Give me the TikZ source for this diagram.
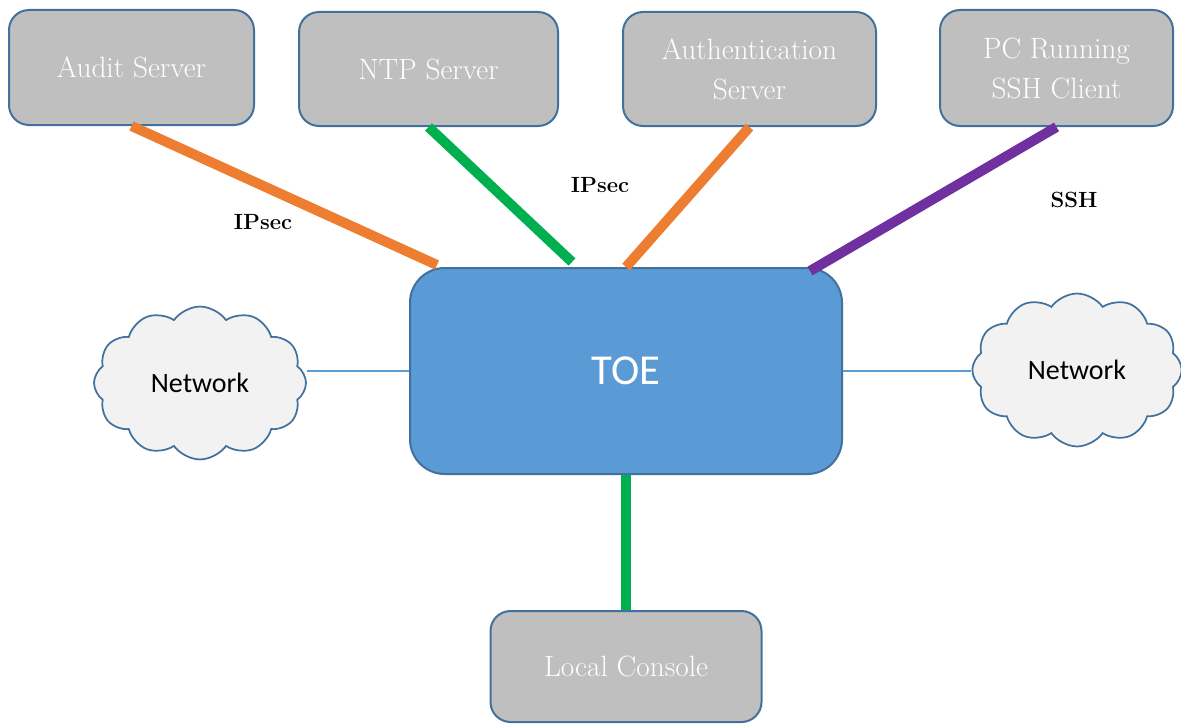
\documentclass[tikz,border=0pt]{standalone}
\usepackage{fontspec}
\newfontfamily\calibrifont{Carlito}
\usetikzlibrary{shapes.symbols,calc}

\definecolor{boxgray}{HTML}{BFBFBF}
\definecolor{edgeblue}{HTML}{41719C}
\definecolor{toeblue}{HTML}{5B9BD5}
\definecolor{cloudfill}{HTML}{F2F2F2}
\definecolor{linkorange}{HTML}{ED7D31}
\definecolor{linkgreen}{HTML}{00B050}
\definecolor{linkpurple}{HTML}{7030A0}

\tikzset{
  server/.style={draw=edgeblue, line width=1.5pt, fill=boxgray, rounded corners=15pt,
    text=white, align=center, font=\fontsize{22}{30}\selectfont, inner sep=0pt},
  toebox/.style={draw=edgeblue, line width=1.5pt, fill=toeblue, rounded corners=26pt,
    text=white, font=\calibrifont\fontsize{32}{36}\selectfont, inner sep=0pt},
  netcloud/.style={cloud, cloud puffs=12, cloud puff arc=110, draw=edgeblue, line width=1.3pt,
    fill=cloudfill, font=\calibrifont\fontsize{21}{24}\selectfont, inner sep=0pt},
  thicklink/.style={line width=7.5pt},
  thinlink/.style={draw=toeblue, line width=0.8pt},
  proto/.style={font=\bfseries\fontsize{16.5}{18}\selectfont, inner sep=0pt}
}

\begin{document}
\begin{tikzpicture}[x=0.75pt,y=-0.75pt]
\useasboundingbox (0,0) rectangle (1181,724);

% top row of servers
\node[server, minimum width=183.75pt, minimum height=86.25pt] (audit) at (131.5,67.5) {Audit Server};
\node[server, minimum width=194.25pt, minimum height=85.5pt] (ntp) at (428.5,69) {NTP Server};
\node[server, minimum width=189.75pt, minimum height=85.5pt] (auth) at (749.5,69) {Authentication\\Server};
\node[server, minimum width=174.75pt, minimum height=87pt] (pc) at (1056.5,68) {PC Running\\SSH Client};

% central device
\node[toebox, minimum width=324pt, minimum height=154.5pt] (toe) at (626,371) {TOE};

% console below
\node[server, minimum width=203.25pt, minimum height=83.25pt] (console) at (626,666.5) {Local Console};

% networks on each side
\node[netcloud, minimum width=159pt, minimum height=90pt] (netl) at (200,383) {Network};
\node[netcloud, minimum width=157pt, minimum height=90pt] (netr) at (1077,370) {Network};

% management links
\draw[thicklink, linkorange] (audit.south) -- ($(toe.north west)+(28,-2)$);
\draw[thicklink, linkgreen] (ntp.south) -- ($(toe.north west)+(163,-5)$);
\draw[thicklink, linkorange] (auth.south) -- ($(toe.north west)+(217,0)$);
\draw[thicklink, linkpurple] (pc.south) -- ($(toe.north west)+(401,4)$);
\draw[thicklink, linkgreen] (toe.south) -- (console.north);

% network attachments
\draw[thinlink] (toe.west) -- (toe.west -| netl.east);
\draw[thinlink] (toe.east) -- (toe.east -| netr.west);

% protocol labels
\node[proto] (lbl1) at (263,222) {IPsec};
\node[proto] (lbl2) at (600,185) {IPsec};
\node[proto] (lbl3) at (1074,200) {SSH};
\end{tikzpicture}
\end{document}
